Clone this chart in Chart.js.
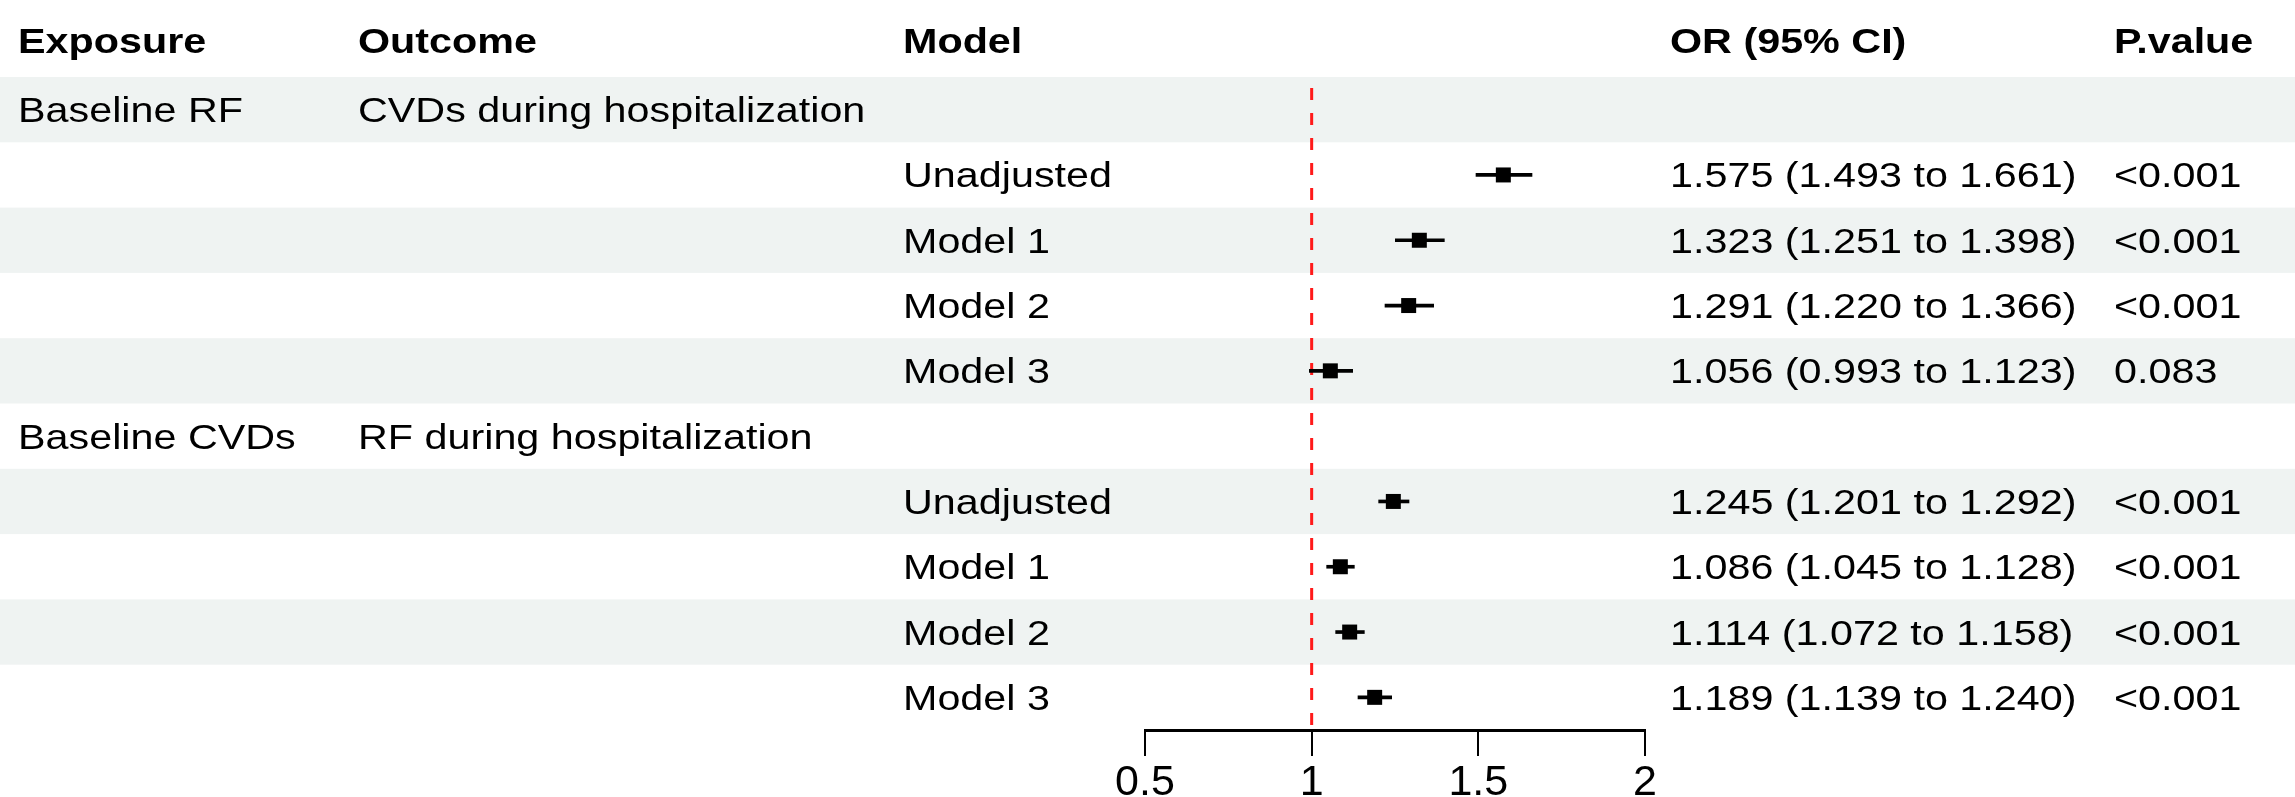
<!DOCTYPE html>
<html>
<head>
<meta charset="utf-8">
<script src="https://cdn.jsdelivr.net/npm/chart.js@4.4.1/dist/chart.umd.min.js"></script>
<style>
  html, body { margin: 0; padding: 0; background: #ffffff; }
  #wrap { width: 2295px; height: 797px; position: relative; }
</style>
</head>
<body>
<div id="wrap"><canvas id="forestChart"></canvas></div>
<script>
"use strict"

// table columns
const headers = ['Exposure', 'Outcome', 'Model', 'OR (95% CI)', 'P.value']
const rowExposure = ['Baseline RF', '', '', '', '', 'Baseline CVDs', '', '', '', '']
const rowOutcome = ['CVDs during hospitalization', '', '', '', '', 'RF during hospitalization', '', '', '', '']
const rowModel = ['', 'Unadjusted', 'Model 1', 'Model 2', 'Model 3', '', 'Unadjusted', 'Model 1', 'Model 2', 'Model 3']

// odds ratios with 95% CI
const orEst = [null, 1.575, 1.323, 1.291, 1.056, null, 1.245, 1.086, 1.114, 1.189]
const orLow = [null, 1.493, 1.251, 1.220, 0.993, null, 1.201, 1.045, 1.072, 1.139]
const orHigh = [null, 1.661, 1.398, 1.366, 1.123, null, 1.292, 1.128, 1.158, 1.240]
const pValue = ['', '<0.001', '<0.001', '<0.001', '0.083', '', '<0.001', '<0.001', '<0.001', '<0.001']

const refValue = 1
const tickValues = [0.5, 1, 1.5, 2]
const tickLabels = ['0.5', '1', '1.5', '2']

const FONT = '"Liberation Sans", Arial, Helvetica, sans-serif'
const TEXT_SIZE = 35
const TEXT_STRETCH = 1.18
const colX = [18, 358, 903, 1670, 2114]

// build the datasets from the arrays
let ciData = []
let boxData = []
for (let i = 0; i < orEst.length; i++) {
    if (orEst[i] === null) continue
    ciData.push({ y: i + 0.5, x: [orLow[i], orHigh[i]] })
    boxData.push({ y: i + 0.5, x: orEst[i] })
}

function orLabel(i) {
    if (orEst[i] === null) return ''
    return orEst[i].toFixed(3) + ' (' + orLow[i].toFixed(3) + ' to ' + orHigh[i].toFixed(3) + ')'
}

function stretchText(ctx, text, x, y) {
    ctx.save()
    ctx.translate(x, y)
    ctx.scale(TEXT_STRETCH, 1)
    ctx.fillText(text, 0, 0)
    ctx.restore()
}

// shaded row bands behind everything
const bandPlugin = {
    id: 'bands',
    beforeDatasetsDraw(chart) {
        const ctx = chart.ctx
        const yScale = chart.scales.y
        ctx.save()
        ctx.fillStyle = '#eff3f2'
        for (let r = 0; r < rowModel.length; r += 2) {
            const top = yScale.getPixelForValue(r)
            const bottom = yScale.getPixelForValue(r + 1)
            ctx.fillRect(0, top, chart.width, bottom - top)
        }
        ctx.restore()
    }
}

// table text: header and cells
const tablePlugin = {
    id: 'table',
    afterDraw(chart) {
        const ctx = chart.ctx
        const yScale = chart.scales.y
        const capShift = TEXT_SIZE * 0.358
        ctx.save()
        ctx.fillStyle = '#000000'
        ctx.textAlign = 'left'
        ctx.textBaseline = 'alphabetic'

        ctx.font = 'bold ' + TEXT_SIZE + 'px ' + FONT
        const headY = chart.chartArea.top / 2 + 2 + capShift
        headers.forEach((h, k) => stretchText(ctx, h, colX[k], headY))

        ctx.font = TEXT_SIZE + 'px ' + FONT
        for (let i = 0; i < rowModel.length; i++) {
            const y = yScale.getPixelForValue(i + 0.5) + capShift
            const cells = [rowExposure[i], rowOutcome[i], rowModel[i], orLabel(i), pValue[i]]
            cells.forEach((c, k) => { if (c) stretchText(ctx, c, colX[k], y) })
        }
        ctx.restore()
    }
}

const ctx = document.getElementById('forestChart')
const myChart = new Chart(ctx, {
    type: 'bar',
    data: {
        datasets: [
            {
                type: 'scatter',
                label: 'OR',
                data: boxData,
                pointStyle: 'rect',
                pointRadius: 10.6,
                pointHoverRadius: 10.6,
                backgroundColor: '#000000',
                borderWidth: 0,
                order: 0
            },
            {
                type: 'bar',
                label: '95% CI',
                data: ciData,
                indexAxis: 'y',
                barThickness: 3,
                backgroundColor: '#000000',
                borderWidth: 0,
                order: 1
            },
            {
                type: 'line',
                label: 'reference',
                data: [{ x: refValue, y: 0 }, { x: refValue, y: rowModel.length }],
                borderColor: '#ff1a1a',
                borderWidth: 3,
                borderDash: [12, 13],
                borderDashOffset: 14,
                pointRadius: 0,
                order: 2
            }
        ]
    },
    options: {
        responsive: true,
        maintainAspectRatio: false,
        animation: false,
        indexAxis: 'y',
        layout: {
            padding: { left: 1145, right: 650, top: 77, bottom: 0 }
        },
        plugins: {
            legend: { display: false },
            tooltip: { enabled: false },
            title: { display: false }
        },
        scales: {
            x: {
                type: 'linear',
                position: 'bottom',
                min: 0.5,
                max: 2,
                offset: false,
                afterBuildTicks: (scale) => { scale.ticks = tickValues.map(v => ({ value: v })) },
                afterFit: (scale) => { scale.height = 67 },
                grid: {
                    drawOnChartArea: false,
                    drawTicks: true,
                    tickLength: 26,
                    color: '#000000',
                    lineWidth: 2,
                    offset: false
                },
                border: { display: true, color: '#000000', width: 3 },
                ticks: {
                    color: '#000000',
                    padding: 1,
                    maxRotation: 0,
                    autoSkip: false,
                    font: { family: FONT, size: 43 },
                    callback: (value, index) => tickLabels[index]
                }
            },
            y: {
                type: 'linear',
                min: 0,
                max: rowModel.length,
                reverse: true,
                offset: false,
                grace: 0,
                display: false
            }
        }
    },
    plugins: [bandPlugin, tablePlugin]
})
</script>
</body>
</html>
